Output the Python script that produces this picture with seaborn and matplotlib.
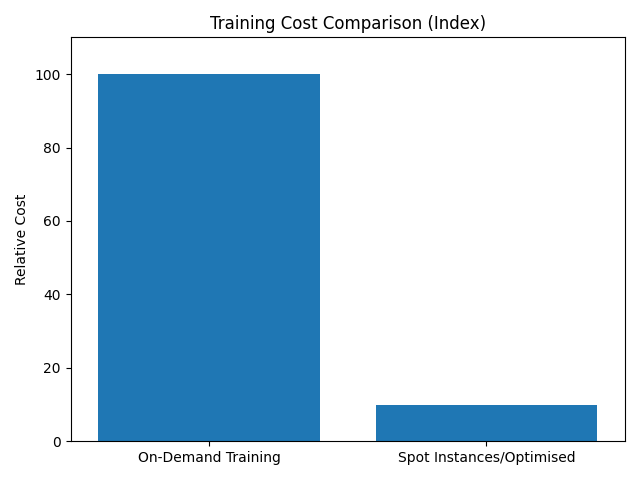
import matplotlib
matplotlib.use("Agg")
import matplotlib.pyplot as plt
import seaborn as sns
import pandas as pd

categories = ["On-Demand Training", "Spot Instances/Optimised"]
costs = [100, 10]

df = pd.DataFrame({"category": categories, "cost": costs})

fig, ax = plt.subplots(figsize=(6.4, 4.8), dpi=100)
sns.barplot(data=df, x="category", y="cost", color="#1f77b4", saturation=1, width=0.8, ax=ax)
ax.set_ylim(0, 110)
ax.set_xlabel("")
ax.set_ylabel("Relative Cost")
ax.set_title("Training Cost Comparison (Index)")
plt.tight_layout()
plt.savefig("out.png", dpi=100)
